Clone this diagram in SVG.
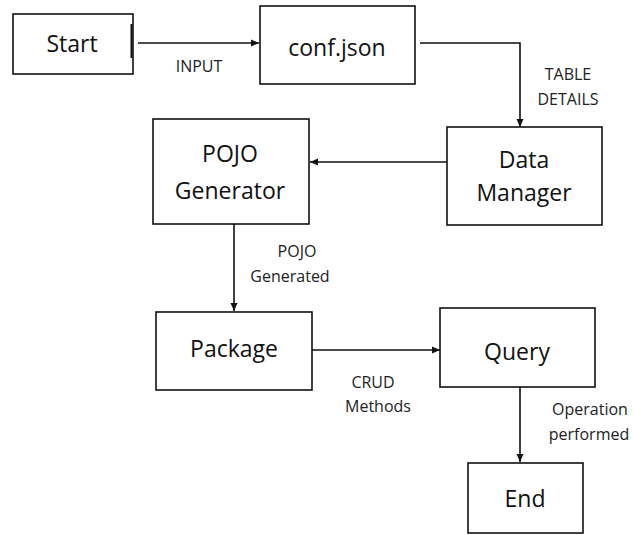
<svg xmlns="http://www.w3.org/2000/svg" width="634" height="535" viewBox="0 0 634 535">
  <defs>
    <marker id="arrow" markerWidth="9" markerHeight="8" refX="8" refY="4" orient="auto" markerUnits="userSpaceOnUse">
      <path d="M0,0.5 L8,4 L0,7.5 Z" fill="#111"/>
    </marker>
    <style>
      .box { fill: #fff; stroke: #111; stroke-width: 1.6; }
      .node-text { font-family: "Open Sans", "Noto Sans", "DejaVu Sans", sans-serif; font-size: 23px; fill: #111; text-anchor: middle; }
      .edge { fill: none; stroke: #111; stroke-width: 1.6; marker-end: url(#arrow); }
      .edge-label { font-family: "Open Sans", "Noto Sans", "DejaVu Sans", sans-serif; font-size: 16px; fill: #222; text-anchor: middle; }
    </style>
  </defs>
  <rect width="634" height="535" fill="#fff"/>

  <g id="start">
    <rect class="box" x="13" y="14" width="120" height="60"/>
    <line x1="131.5" y1="24" x2="131.5" y2="58" stroke="#111" stroke-width="2"/>
    <text class="node-text" x="72" y="52">Start</text>
  </g>

  <g id="conf-json">
    <rect class="box" x="260" y="6" width="155" height="78"/>
    <text class="node-text" x="337" y="56">conf.json</text>
  </g>

  <g id="data-manager">
    <rect class="box" x="447" y="127" width="155" height="98"/>
    <text class="node-text" x="524" y="168">Data</text>
    <text class="node-text" x="524" y="201">Manager</text>
  </g>

  <g id="pojo-generator">
    <rect class="box" x="153" y="119" width="156" height="105"/>
    <text class="node-text" x="230" y="162">POJO</text>
    <text class="node-text" x="230" y="199">Generator</text>
  </g>

  <g id="package">
    <rect class="box" x="156" y="312" width="156" height="78"/>
    <text class="node-text" x="234" y="357">Package</text>
  </g>

  <g id="query">
    <rect class="box" x="440" y="308" width="155" height="79"/>
    <text class="node-text" x="517" y="360">Query</text>
  </g>

  <g id="end">
    <rect class="box" x="468" y="463" width="115" height="70"/>
    <text class="node-text" x="525" y="507">End</text>
  </g>

  <g id="connectors">
    <path class="edge" d="M138,43 H259"/>
    <path class="edge" d="M420,43 H520 V127"/>
    <path class="edge" d="M447,162 H310"/>
    <path class="edge" d="M234,224 V311"/>
    <path class="edge" d="M312,350 H440"/>
    <path class="edge" d="M520,387 V462"/>
    <text class="edge-label" x="199" y="72">INPUT</text>
    <text class="edge-label" x="568" y="80">TABLE</text>
    <text class="edge-label" x="568" y="105">DETAILS</text>
    <text class="edge-label" x="297" y="257">POJO</text>
    <text class="edge-label" x="290" y="282">Generated</text>
    <text class="edge-label" x="373" y="388">CRUD</text>
    <text class="edge-label" x="378" y="412">Methods</text>
    <text class="edge-label" x="590" y="415">Operation</text>
    <text class="edge-label" x="589" y="440">performed</text>
  </g>
</svg>
